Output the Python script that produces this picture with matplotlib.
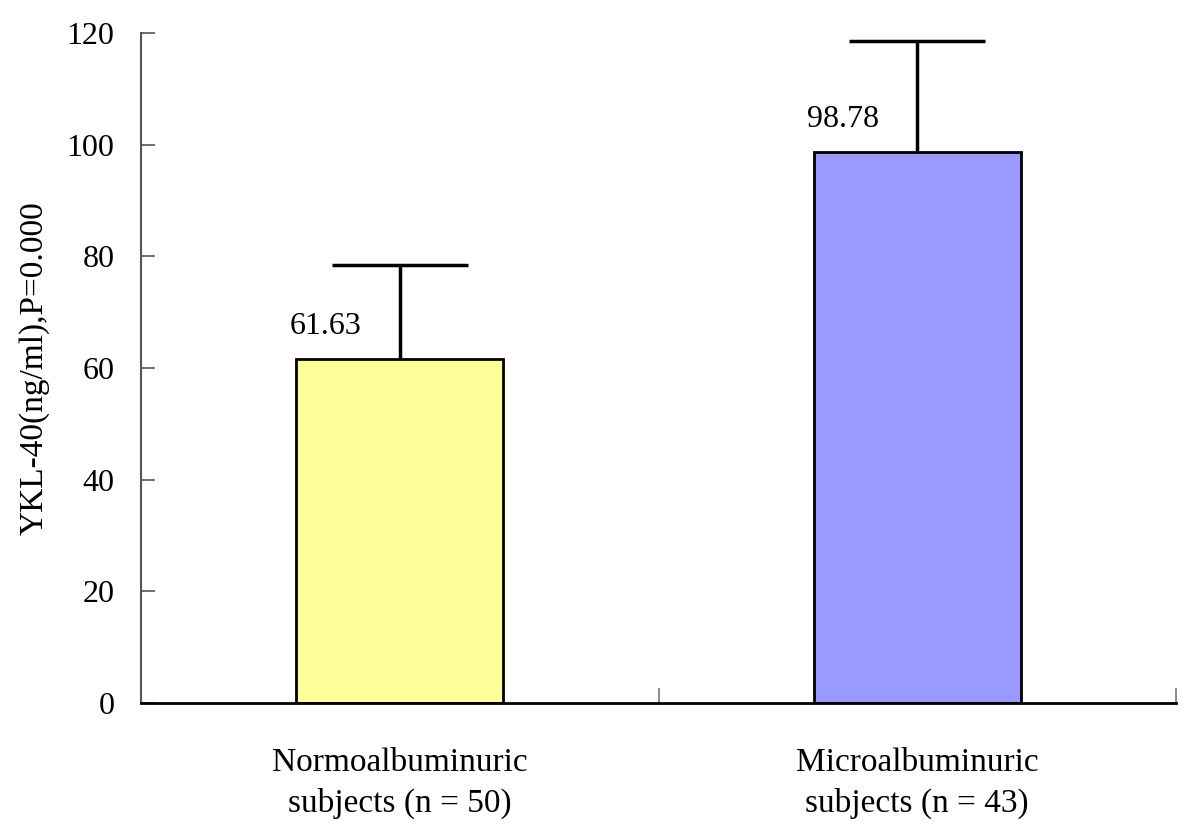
import matplotlib.pyplot as plt

plt.rcParams["font.family"] = ["Liberation Serif", "DejaVu Serif"]

categories = ["Normoalbuminuric\nsubjects (n = 50)", "Microalbuminuric\nsubjects (n = 43)"]
means = [61.63, 98.78]
sds = [16.9, 19.8]
labels = ["61.63", "98.78"]
colors = ["#FFFF99", "#9999FF"]
yticks = [0, 20, 40, 60, 80, 100, 120]

fig = plt.figure(figsize=(12, 8.32), dpi=100)
ax = fig.add_axes([0.1175, 0.155, 0.8625, 0.8053])

x = list(range(len(categories)))
ax.bar(x, means, width=0.4, color=colors, edgecolor="black", linewidth=2, zorder=2)
eb = ax.errorbar(x, means, yerr=[[0] * len(sds), sds], fmt="none", ecolor="black",
                 elinewidth=2.5, capsize=49, capthick=2.5, zorder=3)
# only the upper cap is drawn
eb[1][0].set_visible(False)

# value labels sit up-left of each bar top
for xi, m, lab in zip(x, means, labels):
    ax.annotate(lab, (xi, m), xytext=(-38, 32), textcoords="offset pixels",
                ha="right", va="center", fontsize=23)

ax.set_xlim(-0.5, 1.5)
ax.set_ylim(0, 120)
ax.set_yticks(yticks)
ax.tick_params(axis="y", direction="in", length=10, width=1.2, color="#555555",
               pad=19, labelsize=23)

# separator ticks between categories, labels on minor ticks
ax.set_xticks([-0.5, 0.5, 1.5])
ax.set_xticklabels([])
ax.tick_params(axis="x", which="major", direction="in", length=11, width=1.2, color="#777777")
ax.set_xticks(x, minor=True)
ax.set_xticklabels(categories, minor=True, fontsize=24, linespacing=1.4)
ax.tick_params(axis="x", which="minor", length=0, pad=32)

ax.set_ylabel("YKL-40(ng/ml),P=0.000", fontsize=24, labelpad=12)

ax.spines["top"].set_visible(False)
ax.spines["right"].set_visible(False)
ax.spines["left"].set_color("#555555")
ax.spines["left"].set_linewidth(1.5)
ax.spines["bottom"].set_linewidth(2)

fig.savefig("out.png", dpi=100)
